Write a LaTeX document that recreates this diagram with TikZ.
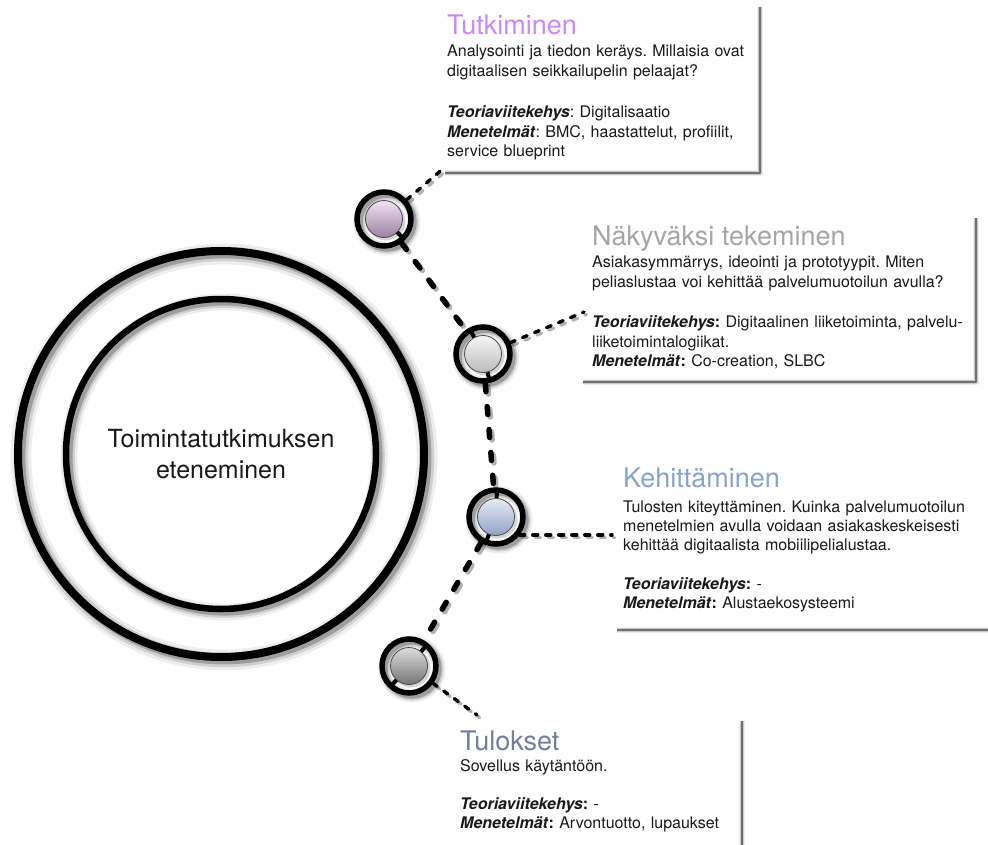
\documentclass[tikz,border=0pt]{standalone}
\usepackage{fontspec}
\setmainfont{TeX Gyre Heros}
\usetikzlibrary{calc}
\frenchspacing

\definecolor{tutkc}{RGB}{206,136,246}
\definecolor{nakyc}{RGB}{165,165,165}
\definecolor{kehic}{RGB}{138,163,202}
\definecolor{tuloc}{RGB}{110,128,158}
\definecolor{ink}{RGB}{25,25,25}

\newcommand\bi[1]{\textbf{\textit{#1}}}

% soft shadow under a stroked circle: centre, radius, stroke width (numbers in pt)
\newcommand\haloring[3]{%
  \foreach \fa/\op in {2.6/0.07,1.8/0.12,1.1/0.24}{%
    \pgfmathsetmacro\lwx{\fa*#3}%
    \draw[black, opacity=\op, line width=\lwx pt] ($(#1)+(3,3)$) circle[radius=#2];
  }%
}

% soft shadow along the right and lower edges of a panel
\newcommand\panelshadow[1]{%
  \foreach \lwf/\op in {6/0.07,4/0.14,2/0.45}{%
    \draw[black, opacity=\op, line width=\lwf pt, line join=round]
      ($(#1.north east)+(2,5)$) -- ($(#1.south east)+(2,2)$) -- ($(#1.south west)+(5,2)$);
  }%
}

% dashed connector with its shadow: style, from, to
\newcommand\linkdash[3]{%
  \draw[#1, black, opacity=0.3, transform canvas={shift={(2.5pt,-2.5pt)}}] (#2) -- (#3);
  \draw[#1, black] (#2) -- (#3);
}

\tikzset{
  title/.style={anchor=base west, inner sep=0pt, font=\fontsize{27}{32}\selectfont},
  body/.style={anchor=base west, inner sep=0pt, text=ink, align=left, text width=430pt,
               font=\fontsize{16}{19.4}\selectfont},
  panel/.style={rectangle, inner sep=0pt, anchor=north west},
  bigring/.style={circle, draw=black, inner sep=0pt},
  ringnode/.style={circle, draw=black, line width=5.5pt, minimum size=54pt, inner sep=0pt},
  discnode/.style={circle, draw=black!70, line width=0.8pt, minimum size=37pt, inner sep=0pt},
  chainlink/.style={line width=5.5pt, dash pattern=on 8pt off 15pt, line cap=round},
  boxlink/.style={line width=3.4pt, dash pattern=on 5pt off 8pt, line cap=round},
  tickmark/.style={line width=4pt},
}

\begin{document}
\begin{tikzpicture}[x=1pt,y=-1pt]
\useasboundingbox (0,0) rectangle (988,845);
\clip (0,0) rectangle (988,845);
\fill[white] (0,0) rectangle (988,845);

% positions
\coordinate (centre) at (221,454);
\coordinate (p1) at (384,219);
\coordinate (p2) at (483,354);
\coordinate (p3) at (496,517);
\coordinate (p4) at (409,666);

% text panels
\node[panel, minimum width=318pt, minimum height=169pt] (box1) at (440,2) {};
\node[panel, minimum width=396pt, minimum height=167pt] (box2) at (578,213) {};
\node[panel, minimum width=400pt, minimum height=168pt] (box3) at (612,460) {};
\node[panel, minimum width=285pt, minimum height=160pt] (box4) at (455,716) {};
\panelshadow{box1}
\panelshadow{box2}
\panelshadow{box3}
\panelshadow{box4}

% the two large circles
\haloring{centre}{203}{8}
\haloring{centre}{155}{6.5}
\node[bigring, line width=8pt, minimum size=406pt] (outer) at (centre) {};
\node[bigring, line width=6.5pt, minimum size=310pt, text=ink, align=center,
      font=\fontsize{25}{31}\selectfont] (inner) at (centre) {Toimintatutkimuksen\\eteneminen};

% phase rings
\foreach \p in {p1,p2,p3,p4}{%
  \fill[white] (\p) circle[radius=27];
  \haloring{\p}{27}{5}
}
\node[ringnode] (r1) at (p1) {};
\node[ringnode] (r2) at (p2) {};
\node[ringnode] (r3) at (p3) {};
\node[ringnode] (r4) at (p4) {};

% short bars inside the rings
\draw[tickmark] (r1.center) -- ++(-45:27pt);
\draw[tickmark] (r2.center) -- ++(118:27pt);
\draw[tickmark] (r2.center) -- ++(-76:27pt);
\draw[tickmark] (r3.center) -- ++(88:27pt);
\draw[tickmark] (r3.center) -- ++(-112:27pt);
\draw[tickmark] (r4.center) -- ++(50:27pt);
\draw[tickmark] (r4.center) -- ++(228:27pt);

% shaded discs
\foreach \p in {p1,p2,p3,p4}{%
  \fill[black, opacity=0.16] ($(\p)+(2,2)$) circle[radius=19.5];
}
\node[discnode, top color={rgb,255:red,238;green,228;blue,240}, bottom color={rgb,255:red,158;green,128;blue,164}] (d1) at (p1) {};
\node[discnode, top color={rgb,255:red,246;green,246;blue,246}, bottom color={rgb,255:red,188;green,188;blue,188}] (d2) at (p2) {};
\node[discnode, top color={rgb,255:red,230;green,236;blue,246}, bottom color={rgb,255:red,146;green,162;blue,198}] (d3) at (p3) {};
\node[discnode, top color={rgb,255:red,220;green,220;blue,220}, bottom color={rgb,255:red,118;green,118;blue,118}] (d4) at (p4) {};

% connectors
\coordinate (c2) at (584,312);
\coordinate (c4) at (477,715);
\linkdash{chainlink}{r1}{r2}
\linkdash{chainlink}{r2}{r3}
\linkdash{chainlink}{r3}{r4}
\linkdash{boxlink}{r1}{box1.south west}
\linkdash{boxlink}{r2}{c2}
\linkdash{boxlink}{r3.-37}{r3.-37 -| box3.west}
\linkdash{boxlink}{r4}{c4}

% panel texts
\node[title, text=tutkc] (t1) at (447,35) {Tutkiminen};
\node[body] (b1) at (447,57) {Analysointi ja tiedon keräys. Millaisia ovat\\
digitaalisen seikkailupelin pelaajat?\\[22pt]
\bi{Teoriaviitekehys}: Digitalisaatio\\
\bi{Menetelmät}: BMC, haastattelut, profiilit,\\
service blueprint};

\node[title, text=nakyc] (t2) at (592,246) {Näkyväksi tekeminen};
\node[body] (b2) at (592,268) {Asiakasymmärrys, ideointi ja prototyypit. Miten\\
peliaslustaa voi kehittää palvelumuotoilun avulla?\\[21pt]
\bi{Teoriaviitekehys}\textbf{:} Digitaalinen liiketoiminta, palvelu-\\
liiketoimintalogiikat.\\
\bi{Menetelmät}\textbf{:} Co-creation, SLBC};

\node[title, text=kehic] (t3) at (623,487) {Kehittäminen};
\node[body] (b3) at (623,512) {Tulosten kiteyttäminen. Kuinka palvelumuotoilun\\
menetelmien avulla voidaan asiakaskeskeisesti\\
kehittää digitaalista mobiilipelialustaa.\\[19pt]
\bi{Teoriaviitekehys}\textbf{:} -\\
\bi{Menetelmät}\textbf{:} Alustaekosysteemi};

\node[title, text=tuloc] (t4) at (460,750) {Tulokset};
\node[body] (b4) at (460,771) {Sovellus käytäntöön.\\[19pt]
\bi{Teoriaviitekehys}\textbf{:} -\\
\bi{Menetelmät}\textbf{:} Arvontuotto, lupaukset};
\end{tikzpicture}
\end{document}
